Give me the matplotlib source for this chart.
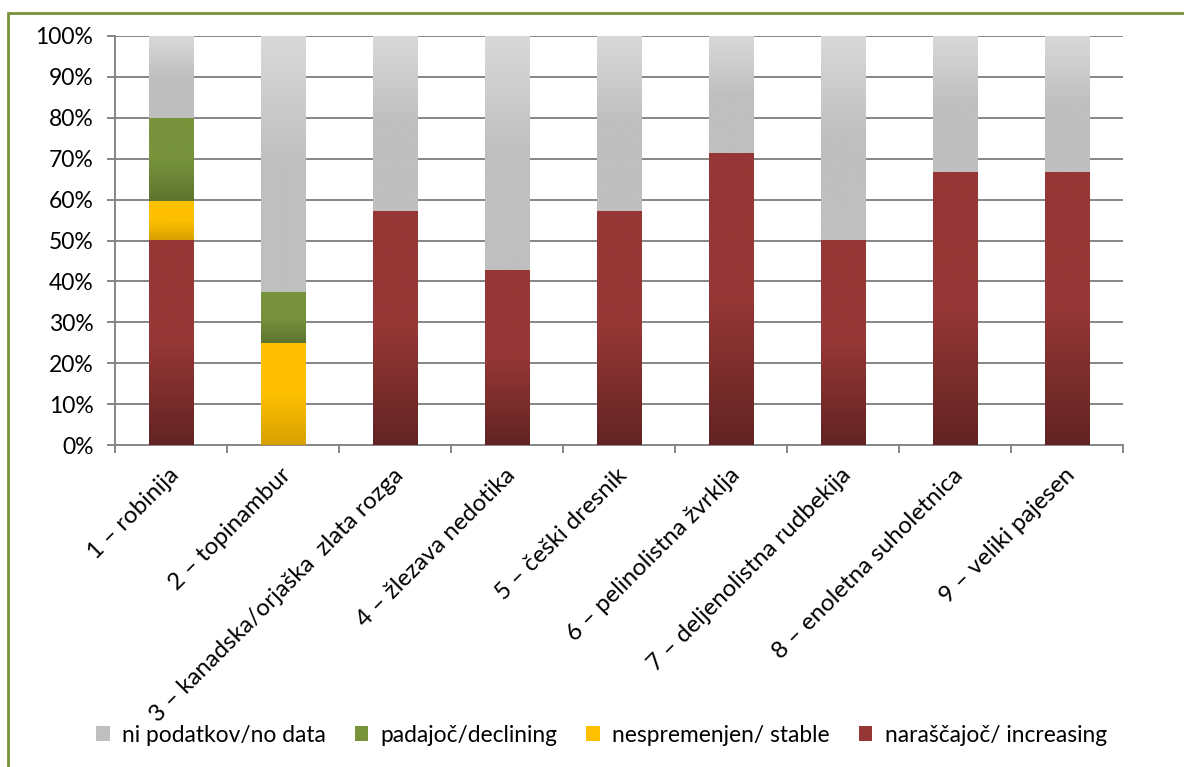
import numpy as np
import matplotlib
matplotlib.use("Agg")
import matplotlib.pyplot as plt
from matplotlib.colors import LinearSegmentedColormap
from matplotlib.patches import Patch, Rectangle
from matplotlib.transforms import ScaledTranslation, blended_transform_factory

plt.rcParams['font.family'] = ['Lato', 'DejaVu Sans']

categories = [
    "1 – robinija",
    "2 – topinambur",
    "3 – kanadska/orjaška  zlata rozga",
    "4 – žlezava nedotika",
    "5 – češki dresnik",
    "6 – pelinolistna žvrklja",
    "7 – deljenolistna rudbekija",
    "8 – enoletna suholetnica",
    "9 – veliki pajesen",
]

# shares in percent, stacked bottom to top
increasing = [50.0, 0.0, 57.1, 42.9, 57.1, 71.4, 50.0, 66.7, 66.7]
stable     = [9.7, 25.0, 0.0, 0.0, 0.0, 0.0, 0.0, 0.0, 0.0]
declining  = [20.3, 12.5, 0.0, 0.0, 0.0, 0.0, 0.0, 0.0, 0.0]
no_data    = [20.0, 62.5, 42.9, 57.1, 42.9, 28.6, 50.0, 33.3, 33.3]

series_labels = ["ni podatkov/no data", "padajoč/declining",
                 "nespremenjen/ stable", "naraščajoč/ increasing"]

# (bottom, middle, top) colours of each series' vertical gradient
styles = {
    "increasing": ("#622423", "#953735", "#953735"),
    "stable":     ("#d6a000", "#ffc000", "#ffc000"),
    "declining":  ("#5d742f", "#77933c", "#77933c"),
    "no_data":    ("#bfbfbf", "#bfbfbf", "#d9d9d9"),
}

W, H = 1184, 767
fig = plt.figure(figsize=(W / 100, H / 100), dpi=100)
ax = fig.add_axes([115 / W, 1 - 445 / H, (1123 - 115) / W, (445 - 36) / H])

x = np.arange(len(categories))
bar_w = 0.4
grad = np.linspace(0, 1, 256).reshape(-1, 1)

bottom = np.zeros(len(categories))
stack = [("increasing", increasing), ("stable", stable),
         ("declining", declining), ("no_data", no_data)]
for key, vals in stack:
    vals = np.asarray(vals, dtype=float)
    cmap = LinearSegmentedColormap.from_list(key, list(zip([0, 0.5, 1], styles[key])))
    bars = ax.bar(x, vals, bottom=bottom, width=bar_w, color="none",
                  edgecolor="none", zorder=2)
    for rect in bars:
        h = rect.get_height()
        if h <= 0:
            continue
        x0, y0 = rect.get_x(), rect.get_y()
        ax.imshow(grad, cmap=cmap, origin="lower", aspect="auto",
                  extent=[x0, x0 + rect.get_width(), y0, y0 + h],
                  interpolation="bilinear", zorder=2)
    bottom += vals

ax.set_xlim(-0.5, len(categories) - 0.5)
ax.set_ylim(0, 100)

# axes styling
grid_c = "#868686"
ax.set_yticks(np.arange(0, 101, 10))
ax.set_yticklabels([f"{v}%" for v in range(0, 101, 10)])
ax.yaxis.grid(True, color=grid_c, linewidth=1.4, zorder=0)
ax.set_axisbelow(True)
for s in ("top", "right"):
    ax.spines[s].set_visible(False)
for s in ("left", "bottom"):
    ax.spines[s].set_color(grid_c)
    ax.spines[s].set_linewidth(1.4)
    ax.spines[s].set_zorder(1)
ax.tick_params(axis="y", length=5.5, width=1.4, color=grid_c,
               labelsize=16.5, pad=10, labelcolor="black")
ax.set_xticks(x)
ax.set_xticklabels([])
ax.tick_params(axis="x", which="major", length=0)
ax.set_xticks(np.arange(-0.5, len(categories), 1.0), minor=True)
ax.tick_params(axis="x", which="minor", length=6, width=1.4, color=grid_c)

# rotated category labels
base = blended_transform_factory(ax.transData, ax.transAxes)
for xi, lab in zip(x, categories):
    ax.text(xi, 0, lab, rotation=45, ha="right", va="center",
            rotation_mode="anchor", fontsize=17.3, color="black",
            transform=base + ScaledTranslation(5 / 100, -27 / 100, fig.dpi_scale_trans))

# legend
colors = [styles["no_data"][1], styles["declining"][1],
          styles["stable"][1], styles["increasing"][1]]
handles = [Patch(facecolor=c, edgecolor="none") for c in colors]
fig.legend(handles, series_labels, loc="center", bbox_to_anchor=(0.508, 1 - 735 / H),
           ncol=4, frameon=False, fontsize=16.4, handlelength=0.6, handleheight=0.6,
           handletextpad=0.55, columnspacing=1.25)

# chart frame
fig.patches.append(Rectangle((8 / W, -0.05), 1.1, 1 - 13 / H + 0.05,
                             transform=fig.transFigure, fill=False,
                             edgecolor="#77933c", linewidth=2))

fig.savefig("out.png", dpi=100)
